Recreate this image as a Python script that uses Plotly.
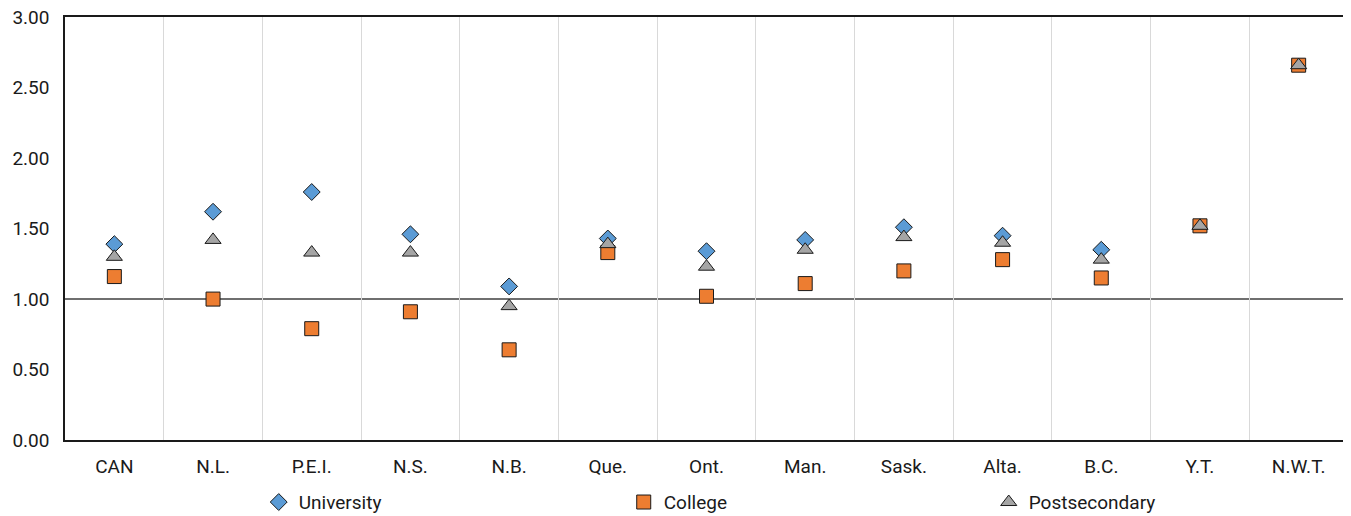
import plotly.graph_objects as go

regions = ['CAN', 'N.L.', 'P.E.I.', 'N.S.', 'N.B.', 'Que.', 'Ont.', 'Man.',
           'Sask.', 'Alta.', 'B.C.', 'Y.T.', 'N.W.T.']
university = [1.39, 1.62, 1.76, 1.46, 1.09, 1.43, 1.34, 1.42, 1.51, 1.45, 1.35, None, None]
college = [1.16, 1.00, 0.79, 0.91, 0.64, 1.33, 1.02, 1.11, 1.20, 1.28, 1.15, 1.52, 2.66]
postsecondary = [1.30, 1.42, 1.33, 1.33, 0.95, 1.39, 1.23, 1.35, 1.44, 1.40, 1.28, 1.52, 2.66]
y_ticks = [0, 0.5, 1.0, 1.5, 2.0, 2.5, 3.0]

FONT = "Roboto, Liberation Sans, sans-serif"
xpos = list(range(len(regions)))

fig = go.Figure()
fig.add_trace(go.Scatter(
    x=xpos, y=university, mode='markers', name='University',
    marker=dict(symbol='diamond', size=13, color='#5B9BD5',
                line=dict(color='#1a1a1a', width=1))))
fig.add_trace(go.Scatter(
    x=xpos, y=college, mode='markers', name='College',
    marker=dict(symbol='square', size=14, color='#ED7D31',
                line=dict(color='#1a1a1a', width=1))))
fig.add_trace(go.Scatter(
    x=xpos, y=postsecondary, mode='markers', name='Postsecondary',
    marker=dict(symbol='triangle-up', size=14, color='#A5A5A5',
                line=dict(color='#1a1a1a', width=1))))

# reference line at 1.0
fig.add_hline(y=1.0, line=dict(color='#6f6f6f', width=2), layer='below')

# page body has an 8px margin, so the figure is sized to fit the rest
fig.update_layout(
    width=1343, height=508,
    margin=dict(l=57, r=3, t=9, b=76, autoexpand=False),
    plot_bgcolor='white', paper_bgcolor='white',
    font=dict(family=FONT, size=19, color='#1a1a1a'),
    showlegend=True,
    legend=dict(orientation='h', x=0.151, xanchor='left', y=-0.147, yanchor='middle',
                entrywidth=320, entrywidthmode='pixels',
                font=dict(size=19), tracegroupgap=0,
                bgcolor='rgba(0,0,0,0)'),
    xaxis=dict(
        range=[-0.5, len(regions) - 0.5],
        tickvals=xpos, ticktext=regions, ticks='',
        ticklabelstandoff=8,
        showgrid=False, zeroline=False,
        showline=True, linecolor='#1a1a1a', linewidth=1.5, mirror=True,
        minor=dict(tickvals=[i + 0.5 for i in xpos[:-1]], showgrid=True,
                   gridcolor='#d9d9d9', gridwidth=1, ticks=''),
        fixedrange=True,
    ),
    yaxis=dict(
        range=[0, 3.002], tickvals=y_ticks, tickformat='.2f',
        ticklabelstandoff=10, ticklabeloverflow='allow',
        showgrid=False, zeroline=False, ticks='',
        showline=True, linecolor='#1a1a1a', linewidth=1.5, mirror=True,
        fixedrange=True,
    ),
)

fig.write_html("out.html")
